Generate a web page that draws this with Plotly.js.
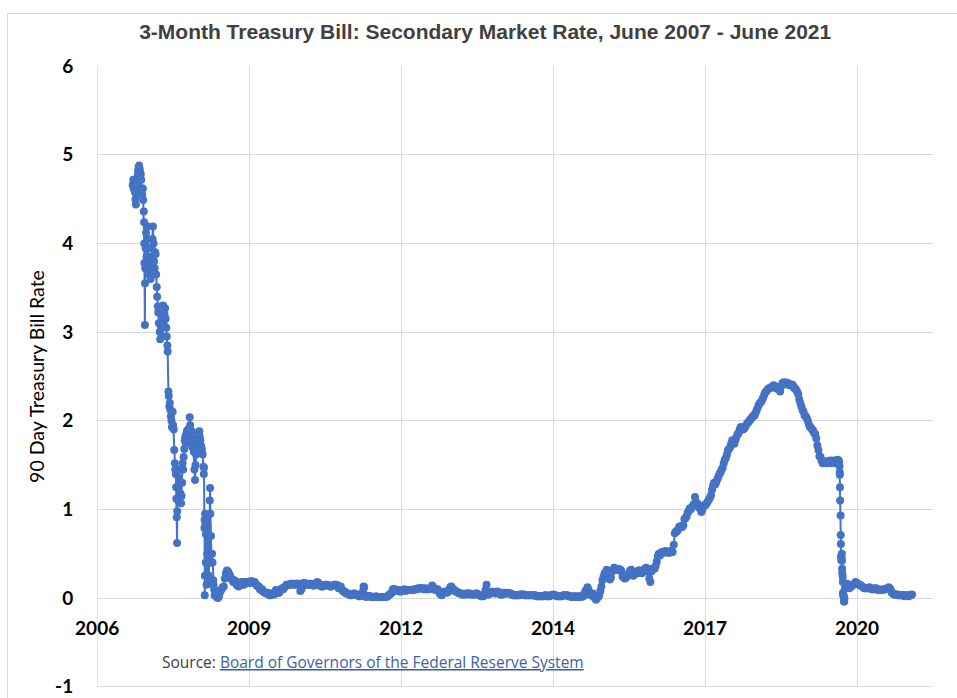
<!DOCTYPE html>
<html>
<head>
<meta charset="utf-8">
<script src="https://cdn.plot.ly/plotly-3.0.1.min.js"></script>
<style>
  html, body { margin: 0; padding: 0; background: #ffffff; }
  #frame { position: absolute; left: 7px; top: 13px; width: 1200px; height: 1200px;
           border-left: 1px solid #d9d9d9; border-top: 1px solid #d9d9d9; }
  #chart { position: absolute; left: 0; top: 0; width: 957px; height: 698px; }
</style>
</head>
<body>
<div id="frame"></div>
<div id="chart"></div>
<script>
// ---- Data: 3-month T-bill secondary market rate (percent) ----
const obs2007 = [["06-01",4.66],["06-05",4.72],["06-08",4.62],["06-12",4.65],["06-15",4.58],["06-19",4.50],["06-22",4.44],["06-26",4.56],["06-29",4.68],
  ["07-03",4.76],["07-06",4.82],["07-10",4.86],["07-13",4.88],["07-17",4.84],["07-20",4.80],["07-24",4.78],["07-27",4.72],["07-31",4.62],
  ["08-03",4.55],["08-07",4.62],["08-09",4.49],["08-13",4.36],["08-15",4.24],["08-16",4.00],["08-17",3.78],["08-20",3.08],["08-21",3.55],["08-22",3.72],["08-24",3.95],["08-28",4.12],["08-31",3.85],
  ["09-05",4.05],["09-07",4.19],["09-11",3.95],["09-14",3.78],["09-18",3.65],["09-20",3.85],["09-24",3.72],["09-27",3.60],
  ["10-01",3.80],["10-04",3.95],["10-09",4.05],["10-12",4.19],["10-16",4.00],["10-19",3.80],["10-23",3.72],["10-26",3.90],["10-30",3.88],
  ["11-02",3.65],["11-06",3.51],["11-09",3.40],["11-13",3.29],["11-16",3.22],["11-20",3.10],["11-26",3.00],["11-29",2.92],
  ["12-04",3.05],["12-07",3.10],["12-11",2.95],["12-14",3.18],["12-18",3.30],["12-21",3.10],["12-27",3.20],["12-31",3.27]];
const obs2008 = [["01-04",3.15],["01-08",3.05],["01-11",2.95],["01-15",2.85],["01-17",2.78],["01-22",2.33],["01-24",2.28],["01-28",2.16],["01-31",2.20],
  ["02-04",2.12],["02-07",2.05],["02-11",2.00],["02-14",1.93],["02-19",2.10],["02-22",1.95],["02-26",1.90],["02-29",1.67],
  ["03-04",1.52],["03-07",1.45],["03-11",1.40],["03-13",1.25],["03-14",1.12],["03-17",0.91],["03-19",0.62],["03-20",0.98],["03-24",1.25],["03-27",1.10],["03-31",1.35],
  ["04-03",1.45],["04-07",1.30],["04-10",1.18],["04-14",1.07],["04-17",1.15],["04-21",1.30],["04-24",1.52],["04-28",1.45],
  ["05-01",1.59],["05-05",1.68],["05-08",1.78],["05-12",1.82],["05-15",1.75],["05-19",1.85],["05-22",1.88],["05-27",1.85],["05-30",1.90],
  ["06-03",1.80],["06-06",1.90],["06-10",2.04],["06-13",1.95],["06-17",1.82],["06-20",1.75],["06-24",1.88],["06-27",1.70],
  ["07-01",1.80],["07-07",1.65],["07-11",1.45],["07-15",1.33],["07-18",1.50],["07-22",1.62],["07-25",1.72],["07-29",1.75],
  ["08-01",1.68],["08-05",1.80],["08-08",1.85],["08-12",1.88],["08-15",1.82],["08-19",1.78],["08-22",1.72],["08-26",1.70],["08-29",1.67],
  ["09-03",1.62],["09-08",1.48],["09-11",1.40],["09-12",1.47],["09-15",0.79],["09-16",0.88],["09-17",0.03],["09-18",0.25],["09-19",0.95],["09-22",0.82],["09-23",0.85],["09-24",0.40],["09-25",0.72],["09-26",0.81],["09-29",0.15],["09-30",0.92],
  ["10-01",0.75],["10-03",0.50],["10-07",0.80],["10-09",0.40],["10-10",0.20],["10-14",0.25],["10-16",0.40],["10-20",1.10],["10-22",1.24],["10-24",0.95],["10-28",0.70],["10-31",0.40],
  ["11-04",0.50],["11-07",0.40],["11-12",0.20],["11-14",0.15],["11-18",0.10],["11-21",0.03],["11-25",0.05],
  ["12-01",0.03],["12-04",0.01],["12-09",0.02],["12-12",0.00],["12-16",0.01],["12-19",0.02],["12-23",0.05],["12-30",0.08]];
const obs2009 = [["01-06",0.10],["01-13",0.12],["01-20",0.13],["01-27",0.22],["02-03",0.28],["02-10",0.31],["02-17",0.30],["02-24",0.27],
  ["03-03",0.25],["03-10",0.22],["03-17",0.20],["03-24",0.18],["03-31",0.20],["04-07",0.18],["04-14",0.15],["04-21",0.14],["04-28",0.13],
  ["05-05",0.17],["05-12",0.18],["05-19",0.17],["05-26",0.15],["06-02",0.15],["06-09",0.18],["06-16",0.18],["06-23",0.17],["06-30",0.18],
  ["07-07",0.17],["07-14",0.19],["07-21",0.18],["07-28",0.19],["08-04",0.17],["08-11",0.18],["08-18",0.16],["08-25",0.14],
  ["09-01",0.13],["09-08",0.13],["09-15",0.10],["09-22",0.09],["09-29",0.10],["10-06",0.07],["10-13",0.07],["10-20",0.06],["10-27",0.05],
  ["11-03",0.06],["11-10",0.05],["11-17",0.03],["11-24",0.03],["12-01",0.05],["12-08",0.05],["12-15",0.04],["12-22",0.05],["12-29",0.09]];
const obs2010 = [["01-05",0.07],["01-12",0.06],["01-19",0.06],["01-26",0.08],["02-02",0.10],["02-09",0.11],["02-16",0.10],["02-23",0.12],
  ["03-02",0.13],["03-09",0.15],["03-16",0.15],["03-23",0.15],["03-30",0.15],["04-06",0.16],["04-13",0.16],["04-20",0.15],["04-27",0.16],
  ["05-04",0.15],["05-11",0.16],["05-18",0.16],["05-25",0.16],["06-01",0.15],["06-08",0.08],["06-15",0.10],["06-22",0.13],["06-29",0.17],
  ["07-06",0.17],["07-13",0.16],["07-20",0.16],["07-27",0.15],["08-03",0.15],["08-10",0.16],["08-17",0.16],["08-24",0.15],["08-31",0.14],
  ["09-07",0.14],["09-14",0.15],["09-21",0.17],["09-28",0.18],["10-05",0.17],["10-12",0.14],["10-19",0.15],["10-26",0.13],
  ["11-02",0.13],["11-09",0.14],["11-16",0.14],["11-23",0.15],["11-30",0.15],["12-07",0.14],["12-14",0.14],["12-21",0.13],["12-28",0.13]];
const obs2011 = [["01-04",0.14],["01-11",0.14],["01-18",0.15],["01-25",0.15],["02-01",0.15],["02-08",0.14],["02-15",0.11],["02-22",0.12],
  ["03-01",0.13],["03-08",0.10],["03-15",0.08],["03-22",0.07],["03-29",0.07],["04-05",0.05],["04-12",0.05],["04-19",0.05],["04-26",0.04],
  ["05-03",0.03],["05-10",0.03],["05-17",0.04],["05-24",0.05],["05-31",0.05],["06-07",0.04],["06-14",0.04],["06-21",0.03],["06-28",0.02],
  ["07-05",0.02],["07-12",0.04],["07-19",0.05],["07-26",0.08],["07-29",0.13],["08-02",0.12],["08-05",0.03],["08-09",0.02],["08-16",0.01],["08-23",0.02],["08-30",0.02],
  ["09-06",0.02],["09-13",0.02],["09-20",0.01],["09-27",0.01],["10-04",0.01],["10-11",0.01],["10-18",0.02],["10-25",0.01],
  ["11-01",0.01],["11-08",0.01],["11-15",0.01],["11-22",0.01],["11-29",0.01],["12-06",0.01],["12-13",0.01],["12-20",0.01],["12-27",0.01]];
const obs2012 = [["01-03",0.02],["01-10",0.03],["01-17",0.04],["01-24",0.05],["01-31",0.06],["02-07",0.10],["02-14",0.10],["02-21",0.10],["02-28",0.09],
  ["03-06",0.08],["03-13",0.09],["03-20",0.08],["03-27",0.07],["04-03",0.08],["04-10",0.09],["04-17",0.09],["04-24",0.10],
  ["05-01",0.08],["05-08",0.09],["05-15",0.09],["05-22",0.09],["05-29",0.09],["06-05",0.09],["06-12",0.09],["06-19",0.09],["06-26",0.10],
  ["07-03",0.10],["07-10",0.10],["07-17",0.10],["07-24",0.11],["07-31",0.11],["08-07",0.11],["08-14",0.11],["08-21",0.11],["08-28",0.10],
  ["09-04",0.10],["09-11",0.11],["09-18",0.10],["09-25",0.10],["10-02",0.10],["10-09",0.11],["10-16",0.11],["10-23",0.14],["10-30",0.12],
  ["11-06",0.10],["11-13",0.09],["11-20",0.10],["11-27",0.10],["12-04",0.08],["12-11",0.05],["12-18",0.04],["12-24",0.03],["12-31",0.05]];
const obs2013 = [["01-08",0.07],["01-15",0.07],["01-22",0.07],["01-29",0.06],["02-05",0.07],["02-12",0.10],["02-19",0.12],["02-26",0.13],
  ["03-05",0.10],["03-12",0.10],["03-19",0.08],["03-26",0.08],["04-02",0.07],["04-09",0.06],["04-16",0.06],["04-23",0.05],["04-30",0.05],
  ["05-07",0.04],["05-14",0.04],["05-21",0.04],["05-28",0.05],["06-04",0.04],["06-11",0.05],["06-18",0.05],["06-25",0.05],
  ["07-02",0.04],["07-09",0.04],["07-16",0.04],["07-23",0.04],["07-30",0.04],["08-06",0.05],["08-13",0.05],["08-20",0.04],["08-27",0.03],
  ["09-03",0.03],["09-10",0.02],["09-17",0.02],["09-24",0.02],["10-01",0.04],["10-08",0.09],["10-15",0.15],["10-18",0.06],["10-22",0.04],["10-29",0.04],
  ["11-05",0.05],["11-12",0.07],["11-19",0.07],["11-26",0.07],["12-03",0.06],["12-10",0.05],["12-17",0.07],["12-24",0.07],["12-31",0.07]];
const obs2014 = [["01-07",0.05],["01-14",0.04],["01-21",0.04],["01-28",0.04],["02-04",0.06],["02-11",0.06],["02-18",0.05],["02-25",0.05],
  ["03-04",0.06],["03-11",0.05],["03-18",0.05],["03-25",0.05],["04-01",0.04],["04-08",0.03],["04-15",0.03],["04-22",0.03],["04-29",0.03],
  ["05-06",0.03],["05-13",0.03],["05-20",0.03],["05-27",0.04],["06-03",0.04],["06-10",0.04],["06-17",0.04],["06-24",0.03],
  ["07-01",0.03],["07-08",0.03],["07-15",0.03],["07-22",0.03],["07-29",0.03],["08-05",0.03],["08-12",0.03],["08-19",0.03],["08-26",0.03],
  ["09-02",0.03],["09-09",0.02],["09-16",0.02],["09-23",0.02],["09-30",0.02],["10-07",0.02],["10-14",0.02],["10-21",0.02],["10-28",0.02],
  ["11-04",0.03],["11-11",0.03],["11-18",0.02],["11-25",0.02],["12-02",0.02],["12-09",0.03],["12-16",0.03],["12-23",0.03],["12-30",0.04]];
const obs2015 = [["01-06",0.03],["01-13",0.03],["01-20",0.02],["01-27",0.02],["02-03",0.02],["02-10",0.02],["02-17",0.02],["02-24",0.02],
  ["03-03",0.03],["03-10",0.03],["03-17",0.03],["03-24",0.03],["03-31",0.03],["04-07",0.02],["04-14",0.02],["04-21",0.02],["04-28",0.01],
  ["05-05",0.01],["05-12",0.02],["05-19",0.02],["05-26",0.01],["06-02",0.01],["06-09",0.02],["06-16",0.01],["06-23",0.02],["06-30",0.01],
  ["07-07",0.02],["07-14",0.02],["07-21",0.05],["07-28",0.08],["08-04",0.09],["08-11",0.12],["08-18",0.09],["08-25",0.04],
  ["09-01",0.03],["09-08",0.04],["09-15",0.05],["09-22",0.01],["09-29",0.00],["10-06",-0.02],["10-13",0.00],["10-20",0.01],["10-27",0.03],
  ["11-03",0.08],["11-10",0.13],["11-17",0.20],["11-24",0.24],["12-01",0.28],["12-08",0.27],["12-15",0.32],["12-22",0.26],["12-29",0.25]];
const obs2016 = [["01-05",0.21],["01-12",0.23],["01-19",0.30],["01-26",0.31],["02-02",0.34],["02-09",0.33],["02-16",0.32],["02-23",0.32],
  ["03-01",0.33],["03-08",0.31],["03-15",0.32],["03-22",0.30],["03-29",0.24],["04-05",0.23],["04-12",0.22],["04-19",0.23],["04-26",0.24],
  ["05-03",0.26],["05-10",0.28],["05-17",0.31],["05-24",0.32],["05-31",0.29],["06-07",0.25],["06-14",0.27],["06-21",0.29],["06-28",0.28],
  ["07-05",0.28],["07-12",0.31],["07-19",0.31],["07-26",0.30],["08-02",0.28],["08-09",0.30],["08-16",0.30],["08-23",0.33],["08-30",0.34],
  ["09-06",0.33],["09-13",0.30],["09-20",0.22],["09-27",0.18],["10-04",0.30],["10-11",0.33],["10-18",0.33],["10-25",0.33],
  ["11-01",0.36],["11-08",0.41],["11-15",0.47],["11-22",0.50],["11-29",0.48],["12-06",0.51],["12-13",0.52],["12-20",0.52],["12-27",0.51]];
const obs2017 = [["01-03",0.53],["01-10",0.52],["01-17",0.52],["01-24",0.51],["01-31",0.51],["02-07",0.53],["02-14",0.53],["02-21",0.52],["02-28",0.60],
  ["03-07",0.73],["03-14",0.75],["03-21",0.75],["03-28",0.77],["04-04",0.80],["04-11",0.81],["04-18",0.81],["04-25",0.80],
  ["05-02",0.82],["05-09",0.89],["05-16",0.90],["05-23",0.92],["05-30",0.96],["06-06",0.98],["06-13",1.01],["06-20",1.00],["06-27",1.02],
  ["07-04",1.04],["07-11",1.06],["07-18",1.14],["07-25",1.08],["08-01",1.07],["08-08",1.05],["08-15",1.02],["08-22",1.00],["08-29",0.97],
  ["09-05",1.00],["09-12",1.04],["09-19",1.05],["09-26",1.05],["10-03",1.07],["10-10",1.09],["10-17",1.11],["10-24",1.13],["10-31",1.16],
  ["11-07",1.22],["11-14",1.27],["11-21",1.30],["11-28",1.28],["12-05",1.31],["12-12",1.34],["12-19",1.37],["12-26",1.40]];
const obs2018 = [["01-02",1.42],["01-09",1.45],["01-16",1.47],["01-23",1.52],["01-30",1.56],["02-06",1.58],["02-13",1.62],["02-20",1.67],["02-27",1.68],
  ["03-06",1.70],["03-13",1.74],["03-20",1.78],["03-27",1.76],["04-03",1.74],["04-10",1.78],["04-17",1.82],["04-24",1.85],
  ["05-01",1.86],["05-08",1.90],["05-15",1.93],["05-22",1.92],["05-29",1.90],["06-05",1.91],["06-12",1.93],["06-19",1.95],["06-26",1.97],
  ["07-03",1.98],["07-10",2.00],["07-17",2.01],["07-24",2.03],["07-31",2.04],["08-07",2.06],["08-14",2.06],["08-21",2.09],["08-28",2.12],
  ["09-04",2.15],["09-11",2.18],["09-18",2.20],["09-25",2.21],["10-02",2.23],["10-09",2.26],["10-16",2.29],["10-23",2.32],["10-30",2.33],
  ["11-06",2.35],["11-13",2.36],["11-20",2.37],["11-27",2.37],["12-04",2.38],["12-11",2.39],["12-18",2.40],["12-26",2.39]];
const obs2019 = [["01-02",2.37],["01-08",2.36],["01-15",2.38],["01-22",2.36],["01-29",2.33],["02-05",2.39],["02-12",2.42],["02-19",2.43],["02-26",2.43],
  ["03-05",2.42],["03-12",2.43],["03-19",2.41],["03-26",2.42],["04-02",2.40],["04-09",2.40],["04-16",2.41],["04-23",2.40],["04-30",2.37],
  ["05-07",2.37],["05-14",2.35],["05-21",2.33],["05-28",2.30],["06-04",2.24],["06-11",2.20],["06-18",2.16],["06-25",2.12],
  ["07-02",2.10],["07-09",2.06],["07-16",2.05],["07-23",2.03],["07-30",2.00],["08-06",1.96],["08-13",1.93],["08-20",1.92],["08-27",1.90],
  ["09-03",1.89],["09-10",1.86],["09-17",1.85],["09-24",1.80],["10-01",1.72],["10-08",1.67],["10-15",1.60],["10-22",1.59],["10-29",1.55],
  ["11-05",1.52],["11-12",1.53],["11-19",1.54],["11-26",1.54],["12-03",1.52],["12-10",1.54],["12-17",1.53],["12-24",1.55],["12-31",1.52]];
const obs2020 = [["01-07",1.53],["01-14",1.55],["01-21",1.54],["01-28",1.52],["02-04",1.54],["02-11",1.56],["02-18",1.55],["02-21",1.54],
  ["02-24",1.49],["02-25",1.42],["02-26",1.39],["02-27",1.25],["02-28",1.10],["03-02",0.93],["03-03",0.71],["03-04",0.61],["03-05",0.47],["03-06",0.43],
  ["03-09",0.45],["03-10",0.50],["03-11",0.42],["03-12",0.33],["03-13",0.28],["03-16",0.24],["03-17",0.18],["03-18",0.06],["03-19",0.03],["03-20",0.04],
  ["03-23",0.02],["03-24",-0.04],["03-25",-0.02],["03-26",-0.04],["03-27",0.00],["03-31",0.11],
  ["04-07",0.14],["04-14",0.16],["04-21",0.12],["04-28",0.11],["05-05",0.12],["05-12",0.13],["05-19",0.15],["05-26",0.15],
  ["06-02",0.16],["06-09",0.18],["06-16",0.17],["06-23",0.16],["06-30",0.15],["07-07",0.15],["07-14",0.14],["07-21",0.13],["07-28",0.12],
  ["08-04",0.11],["08-11",0.11],["08-18",0.11],["08-25",0.11],["09-01",0.11],["09-08",0.12],["09-15",0.11],["09-22",0.10],["09-29",0.10],
  ["10-06",0.10],["10-13",0.11],["10-20",0.11],["10-27",0.10],["11-03",0.09],["11-10",0.10],["11-17",0.09],["11-24",0.09],
  ["12-01",0.09],["12-08",0.10],["12-15",0.10],["12-22",0.10],["12-29",0.10]];
const obs2021 = [["01-05",0.11],["01-12",0.12],["01-19",0.11],["01-26",0.09],["02-02",0.06],["02-09",0.05],["02-16",0.04],["02-23",0.04],
  ["03-02",0.04],["03-09",0.04],["03-16",0.03],["03-23",0.03],["03-30",0.03],["04-06",0.03],["04-13",0.03],["04-20",0.03],["04-27",0.02],
  ["05-04",0.03],["05-11",0.03],["05-18",0.03],["05-25",0.02],["06-01",0.03],["06-08",0.03],["06-15",0.04]];

// Axis ticks (Excel date axis with a 1000-day major unit)
const xTickVals = ["2006-10-10","2009-07-06","2012-04-01","2014-12-27","2017-09-22","2020-06-18"];
const xTickText = ["2006","2009","2012","2014","2017","2020"];
const yTickVals = [-1,0,1,2,3,4,5,6];
const yTickText = ["-1","0","1","2","3","4","5","6"];

// ---- Build the series ----
const years = {2007:obs2007,2008:obs2008,2009:obs2009,2010:obs2010,2011:obs2011,2012:obs2012,2013:obs2013,
               2014:obs2014,2015:obs2015,2016:obs2016,2017:obs2017,2018:obs2018,2019:obs2019,2020:obs2020,2021:obs2021};
const xs = [], ys = [];
Object.keys(years).sort().forEach(function (yr) {
  years[yr].forEach(function (p) { xs.push(yr + "-" + p[0]); ys.push(p[1]); });
});

const blue = "#4472C4";
const grid = "#d9d9d9";

const trace = {
  type: "scatter", mode: "lines+markers", x: xs, y: ys,
  line: {color: blue, width: 2},
  marker: {color: blue, size: 8},
  hoverinfo: "x+y", showlegend: false
};

const layout = {
  width: 957, height: 698,
  margin: {l: 97, r: 24, t: 66, b: 11, pad: 0},
  paper_bgcolor: "rgba(0,0,0,0)", plot_bgcolor: "rgba(0,0,0,0)",
  title: {
    text: "3-Month Treasury Bill: Secondary Market Rate, June 2007 - June 2021",
    font: {family: "Liberation Sans Narrow, Liberation Sans, sans-serif", size: 21, color: "#404040", weight: 700},
    xref: "container", x: 0.507, xanchor: "center",
    yref: "container", y: 1 - 32/698, yanchor: "middle"
  },
  xaxis: {
    type: "date",
    range: ["2006-10-09", "2021-10-31"],
    tickmode: "array", tickvals: xTickVals, ticktext: xTickText,
    showgrid: true, gridcolor: grid, gridwidth: 1,
    zeroline: false, showline: false,
    anchor: "free", position: 1/7,
    ticks: "outside", ticklen: 13, tickcolor: "rgba(0,0,0,0)",
    tickfont: {family: "Lato, sans-serif", size: 19, color: "#000000", weight: 700}
  },
  yaxis: {
    range: [-1.004, 6.002],
    tickmode: "array", tickvals: yTickVals, ticktext: yTickText,
    showgrid: true, gridcolor: grid, gridwidth: 1,
    zeroline: true, zerolinecolor: grid, zerolinewidth: 1,
    showline: false,
    ticks: "outside", ticklen: 19, tickcolor: "rgba(0,0,0,0)",
    tickfont: {family: "Lato, sans-serif", size: 19, color: "#000000", weight: 700},
    title: {text: "90 Day Treasury Bill Rate", standoff: 5,
            font: {family: "Lato, sans-serif", size: 19.5, color: "#000000"}}
  },
  shapes: [
    {type: "line", layer: "below", xref: "paper", x0: 0, x1: 1, yref: "y", y0: -1, y1: -1,
     line: {color: grid, width: 1}},
    {type: "line", layer: "below", xref: "x", x0: xTickVals[0], x1: xTickVals[0], yref: "paper", y0: 0, y1: 1,
     line: {color: grid, width: 1}}
  ],
  annotations: [{
    xref: "paper", yref: "paper", x: (160 - 97) / 836, y: (687 - 661.7) / 621,
    xanchor: "left", yanchor: "middle", showarrow: false,
    text: "Source: <span style=\"color:#3a63a6;text-decoration:underline\">Board of Governors of the Federal Reserve System</span>",
    font: {family: "Open Sans, sans-serif", size: 15.5, color: "#404040"}
  }]
};

Plotly.newPlot("chart", [trace], layout, {displayModeBar: false, staticPlot: true});
</script>
</body>
</html>
